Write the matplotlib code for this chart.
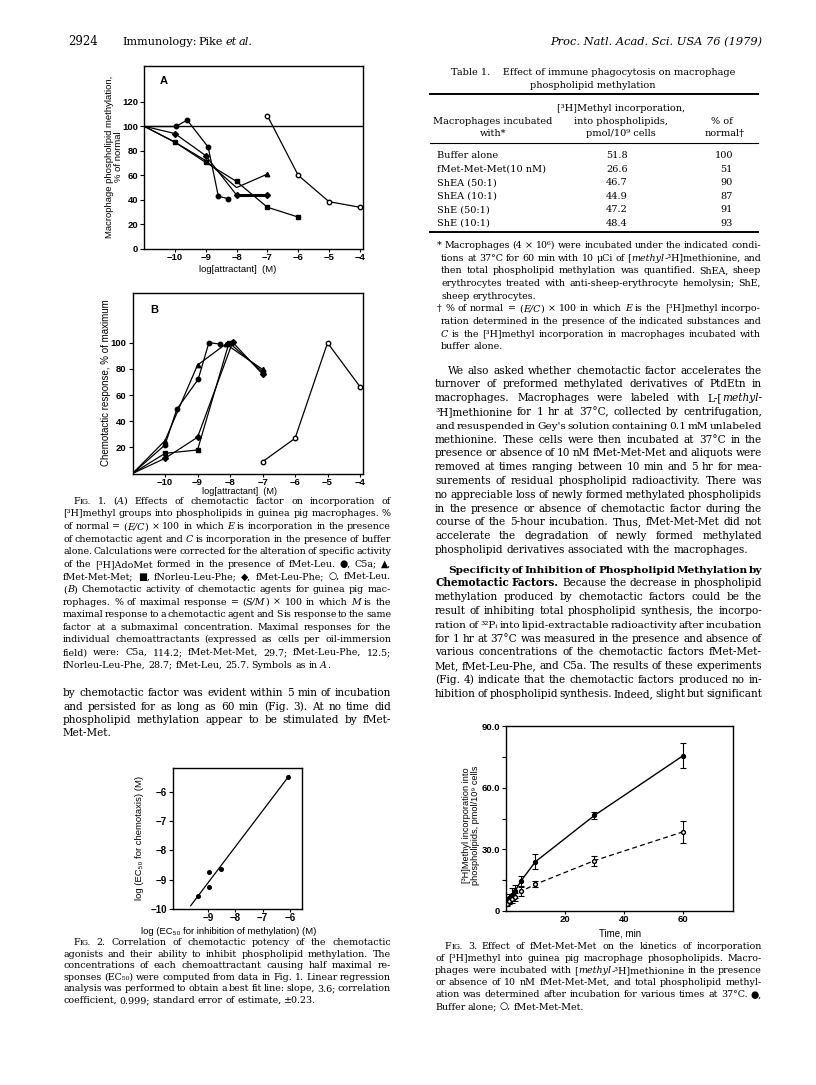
import matplotlib
matplotlib.use('Agg')
import matplotlib.pyplot as plt
import numpy as np
from matplotlib.lines import Line2D

W, H = 816, 1085
SERIF = ['DejaVu Serif', 'DejaVu Sans']
SANS = ['Liberation Sans', 'DejaVu Sans']

# Fig. 1A: % of normal methylation vs log[attractant]
a_c5a_x = [-11, -9.95, -9.6, -8.92, -8.59, -8.28]
a_c5a_y = [100, 100, 105, 83, 43, 41]
a_mmm_x = [-11, -10, -9, -8, -7]
a_mmm_y = [100, 87, 72, 50, 61]
a_nlp_x = [-11, -10, -9, -8, -7, -6]
a_nlp_y = [100, 87, 70.5, 55, 34, 26]
a_mlp_x = [-11, -10, -9, -8, -7]
a_mlp_y = [100, 94, 76, 44, 44]
a_ml_x = [-7, -6, -5, -4]
a_ml_y = [108.5, 60, 38.5, 34]

# Fig. 1B: chemotactic response, % of maximum
b_c5a_x = [-11, -10, -9.64, -8.98, -8.65, -8.31]
b_c5a_y = [0, 21.8, 49, 72, 100, 99]
b_mmm_x = [-11, -10, -9, -8.13, -7]
b_mmm_y = [0, 25.1, 82.9, 99, 79.6]
b_nlp_x = [-11, -10, -9, -8.03, -7]
b_nlp_y = [0, 15.4, 18, 100, 77.8]
b_mlp_x = [-11, -10, -9, -7.92, -7]
b_mlp_y = [0, 11.6, 27.7, 100.4, 76]
b_ml_x = [-7, -6, -5, -4]
b_ml_y = [9, 26.9, 99.9, 66.3]

# Fig. 2: log EC50 chemotaxis vs log EC50 inhibition of methylation
ec50_inhib = [-9.37, -8.97, -8.97, -8.55, -6.07]
ec50_chemo = [-9.57, -9.26, -8.75, -8.64, -5.51]

# Fig. 3: kinetics of [3H]methyl incorporation
time_min = [0.5, 1, 2, 3, 5, 10, 30, 60]
buffer_y = [4, 6.5, 8, 9.5, 14.5, 24, 46.5, 75.5]
buffer_err = [1, 2, 3, 3, 2.5, 3.5, 1.5, 6]
fmmm_y = [3.5, 5, 6, 7, 9.5, 13, 24.5, 38.5]
fmmm_err = [1, 1.5, 2, 2, 2, 1.5, 2.5, 5.5]

# Table 1
conditions = ['Buffer alone', 'fMet-Met-Met(10 nM)', 'ShEA (50:1)',
              'ShEA (10:1)', 'ShE (50:1)', 'ShE (10:1)']
incorporation = [51.8, 26.6, 46.7, 44.9, 47.2, 48.4]
pct_normal = [100, 51, 90, 87, 91, 93]

fig = plt.figure(figsize=(W / 100, H / 100), dpi=100)
fig.patch.set_facecolor('white')
renderer = fig.canvas.get_renderer()


def txt(x, y, s, size, **kw):
    kw.setdefault('family', SERIF)
    kw.setdefault('va', 'baseline')
    return fig.text(x / W, 1 - y / H, s, fontsize=size, **kw)


def seg_style(seg, size):
    # _ italic, # bold, ~ small caps part
    if seg.startswith('_'):
        return seg[1:], {'style': 'italic'}, size
    if seg.startswith('#'):
        return seg[1:], {'weight': 'bold'}, size
    if seg.startswith('~'):
        return seg[1:], {}, size * 0.8
    return seg, {}, size


def natural_width(line, size):
    w = 0
    words = line.split()
    for word in words:
        for seg in word.split('|'):
            s, kw, sz = seg_style(seg, size)
            t = txt(0, 0, s, sz, **kw)
            w += t.get_window_extent(renderer).width
            t.remove()
    return w + 0.28 * size * 100 / 72 * (len(words) - 1)


def fit_size(lines, avail, base=7.0):
    ratios = [avail / natural_width(l, base) for l in lines]
    return base * float(np.median(ratios)) * 0.98


def text_line(x0, x1, yc, line, size, justify=True):
    em = size * 100 / 72
    y = yc + 0.3 * em
    words = []
    for word in line.split():
        parts = []
        for seg in word.split('|'):
            s, kw, sz = seg_style(seg, size)
            t = txt(0, 0, s, sz, **kw)
            parts.append([t, t.get_window_extent(renderer).width, sz])
        words.append(parts)
    widths = [sum(p[1] for p in parts) for parts in words]
    total = sum(widths)
    n = len(words)
    space = 0.28 * em
    scale = 1.0
    if total + 0.6 * space * (n - 1) > x1 - x0:
        scale = (x1 - x0 - 0.6 * space * (n - 1)) / total
    gap = (x1 - x0 - total * scale) / (n - 1) if (justify and n > 1) else space
    x = x0
    for parts in words:
        for t, w, sz in parts:
            t.set_position((x / W, 1 - y / H))
            if scale < 1:
                t.set_fontsize(sz * scale)
            x += w * scale
        x += gap


def paragraph(lines, x0, x1, y0, dy, size, indent=0, justify_last=False):
    for i, line in enumerate(lines):
        last = i == len(lines) - 1
        text_line(x0 + (indent if i == 0 else 0), x1, y0 + i * dy, line, size,
                  justify=justify_last or not last)


def hrule(x0, x1, y, lw):
    fig.add_artist(Line2D([x0 / W, x1 / W], [1 - y / H, 1 - y / H], lw=lw,
                          color='black', transform=fig.transFigure))


def add_axes(x0, x1, y0, y1):
    ax = fig.add_axes([x0 / W, 1 - y1 / H, (x1 - x0) / W, (y1 - y0) / H])
    for sp in ax.spines.values():
        sp.set_linewidth(1.0)
    ax.tick_params(direction='out', length=3, width=0.8, pad=1.2, labelsize=7)
    ax.tick_params(axis='x', length=2, pad=1)
    return ax


def bold_ticks(ax, size=6.8):
    for lab in ax.get_xticklabels() + ax.get_yticklabels():
        lab.set_family(SANS)
        lab.set_fontweight('bold')
        lab.set_fontsize(size)


# ---------------- page header ----------------
txt(68, 45, '2924', 8.5)
text_line(122, 253, 41, 'Immunology: Pike _et _al.', 9.0)
txt(762, 45, 'Proc. Natl. Acad. Sci. USA 76 (1979)', 8.2, style='italic', ha='right')

# ---------------- Fig. 1A ----------------
kw = dict(color='black', lw=0.9)
ax = add_axes(144, 363, 66, 249)
ax.axhline(100, color='black', lw=1.0)
ax.plot(a_c5a_x[1:], a_c5a_y[1:], marker='o', ms=3.2, **kw)
ax.plot(a_c5a_x[:2], a_c5a_y[:2], **kw)
ax.plot(a_mmm_x, a_mmm_y, marker='^', ms=3.2, markevery=[4], **kw)
ax.plot(a_nlp_x, a_nlp_y, marker='s', ms=3.2, markevery=[1, 2, 3, 4, 5], **kw)
ax.plot(a_mlp_x, a_mlp_y, marker='D', ms=3.0, markevery=[1, 2, 3, 4], **kw)
ax.plot(a_mlp_x[3:], a_mlp_y[3:], color='black', lw=2.2)
ax.plot(a_ml_x, a_ml_y, marker='o', ms=3.2, mfc='white', **kw)
ax.set_xlim(-11, -3.9)
ax.set_ylim(0, 149)
ax.set_xticks([-10, -9, -8, -7, -6, -5, -4])
ax.set_yticks([0, 20, 40, 60, 80, 100, 120])
bold_ticks(ax)
ax.text(0.07, 0.945, 'A', transform=ax.transAxes, family=SANS, fontsize=8,
        fontweight='bold', va='top')
txt(114, 157, 'Macrophage phospholipid methylation,\n% of normal', 6.8,
    family=SANS, rotation=90, ha='center', va='center', multialignment='center',
    linespacing=1.0)
txt(238, 269, 'log[attractant]  (M)', 6.8, family=SANS, ha='center', va='center')

# ---------------- Fig. 1B ----------------
ax = add_axes(132.5, 363.3, 293, 473.5)
ax.plot(b_c5a_x, b_c5a_y, marker='o', ms=3.2, markevery=[1, 2, 3, 4, 5], **kw)
ax.plot(b_mmm_x, b_mmm_y, marker='^', ms=3.2, markevery=[1, 2, 3, 4], **kw)
ax.plot(b_nlp_x, b_nlp_y, marker='s', ms=3.2, markevery=[1, 2, 3, 4], **kw)
ax.plot(b_mlp_x, b_mlp_y, marker='D', ms=3.0, markevery=[1, 2, 3, 4], **kw)
ax.plot(b_ml_x, b_ml_y, marker='o', ms=3.2, mfc='white', **kw)
ax.set_xlim(-11, -3.9)
ax.set_ylim(0, 138)
ax.set_xticks([-10, -9, -8, -7, -6, -5, -4])
ax.set_yticks([20, 40, 60, 80, 100])
bold_ticks(ax)
ax.text(0.076, 0.933, 'B', transform=ax.transAxes, family=SANS, fontsize=8,
        fontweight='bold', va='top')
txt(106, 383, 'Chemotactic response, % of maximum', 7, family=SANS,
    rotation=90, ha='center', va='center')
txt(240, 491, 'log[attractant]  (M)', 6.6, family=SANS, ha='center', va='center')

# ---------------- Fig. 1 caption + left body ----------------
fig1_caption = [
    'F|~IG. 1. (|_A|) Effects of chemotactic factor on incorporation of',
    '[³H]methyl groups into phospholipids in guinea pig macrophages. %',
    'of normal = (|_E/C|) × 100 in which _E is incorporation in the presence',
    'of chemotactic agent and _C is incorporation in the presence of buffer',
    'alone. Calculations were corrected for the alteration of specific activity',
    'of the [³H]AdoMet formed in the presence of fMet-Leu. ●, C5a; ▲,',
    'fMet-Met-Met; ■, fNorleu-Leu-Phe; ◆, fMet-Leu-Phe; ○, fMet-Leu.',
    '(|_B|) Chemotactic activity of chemotactic agents for guinea pig mac-',
    'rophages. % of maximal response = (|_S/M|) × 100 in which _M is the',
    'maximal response to a chemotactic agent and S is response to the same',
    'factor at a submaximal concentration. Maximal responses for the',
    'individual chemoattractants (expressed as cells per oil-immersion',
    'field) were: C5a, 114.2; fMet-Met-Met, 29.7; fMet-Leu-Phe, 12.5;',
    'fNorleu-Leu-Phe, 28.7; fMet-Leu, 25.7. Symbols as in _A|.',
]
fig2_caption = [
    'F|~IG. 2. Correlation of chemotactic potency of the chemotactic',
    'agonists and their ability to inhibit phospholipid methylation. The',
    'concentrations of each chemoattractant causing half maximal re-',
    'sponses (EC₅₀) were computed from data in Fig. 1. Linear regression',
    'analysis was performed to obtain a best fit line: slope, 3.6; correlation',
    'coefficient, 0.999; standard error of estimate, ±0.23.',
]
fig3_caption = [
    'F|~IG. 3. Effect of fMet-Met-Met on the kinetics of incorporation',
    'of [³H]methyl into guinea pig macrophage phosopholipids. Macro-',
    'phages were incubated with [|_methyl|-³H]methionine in the presence',
    'or absence of 10 nM fMet-Met-Met, and total phospholipid methyl-',
    'ation was determined after incubation for various times at 37°C. ●,',
    'Buffer alone; ○, fMet-Met-Met.',
]
cap_size = fit_size(fig1_caption[1:-1] + fig2_caption[1:-1] + fig3_caption[1:-1], 328)
paragraph(fig1_caption, 63, 391, 501, 12.6, cap_size, indent=10)
paragraph(fig2_caption, 63, 391, 942, 11.65, cap_size, indent=10)
paragraph(fig3_caption, 435, 762, 945.7, 12.2, cap_size, indent=10)

left_body = [
    'by chemotactic factor was evident within 5 min of incubation',
    'and persisted for as long as 60 min (Fig. 3). At no time did',
    'phospholipid methylation appear to be stimulated by fMet-',
    'Met-Met.',
]
right_body1 = [
    'We also asked whether chemotactic factor accelerates the',
    'turnover of preformed methylated derivatives of PtdEtn in',
    'macrophages. Macrophages were labeled with L-[|_methyl-',
    '³H]methionine for 1 hr at 37°C, collected by centrifugation,',
    "and resuspended in Gey's solution containing 0.1 mM unlabeled",
    'methionine. These cells were then incubated at 37°C in the',
    'presence or absence of 10 nM fMet-Met-Met and aliquots were',
    'removed at times ranging between 10 min and 5 hr for mea-',
    'surements of residual phospholipid radioactivity. There was',
    'no appreciable loss of newly formed methylated phospholipids',
    'in the presence or absence of chemotactic factor during the',
    'course of the 5-hour incubation. Thus, fMet-Met-Met did not',
    'accelerate the degradation of newly formed methylated',
    'phospholipid derivatives associated with the macrophages.',
]
right_body2 = [
    '#Specificity #of #Inhibition #of #Phospholipid #Methylation #by',
    '#Chemotactic #Factors. Because the decrease in phospholipid',
    'methylation produced by chemotactic factors could be the',
    'result of inhibiting total phospholipid synthesis, the incorpo-',
    'ration of ³²Pᵢ into lipid-extractable radioactivity after incubation',
    'for 1 hr at 37°C was measured in the presence and absence of',
    'various concentrations of the chemotactic factors fMet-Met-',
    'Met, fMet-Leu-Phe, and C5a. The results of these experiments',
    '(Fig. 4) indicate that the chemotactic factors produced no in-',
    'hibition of phospholipid synthesis. Indeed, slight but significant',
]
body_size = fit_size(left_body[:-1] + right_body1[:-1] + right_body2[1:], 328)
paragraph(left_body, 63, 391, 693.3, 13.3, body_size)
paragraph(right_body1, 435, 762, 370.5, 13.8, body_size, indent=13)
paragraph(right_body2, 435, 762, 569.5, 13.8, body_size, indent=13,
          justify_last=True)

# ---------------- Fig. 2 ----------------
ax = add_axes(173, 302, 768, 909)
ax.plot(ec50_inhib, ec50_chemo, 'o', color='black', ms=2.6)
slope, icpt = np.polyfit(ec50_inhib, ec50_chemo, 1)
fx = np.array([-9.65, -6.02])
ax.plot(fx, slope * fx + icpt, color='black', lw=0.9)
ax.set_xlim(-10.3, -5.55)
ax.set_ylim(-10, -5.2)
ax.set_xticks([-9, -8, -7, -6])
ax.set_yticks([-10, -9, -8, -7, -6])
bold_ticks(ax, 7)
txt(140, 838, 'log (EC₅₀ for chemotaxis) (M)', 6.8, family=SANS, rotation=90,
    ha='center', va='center')
txt(229, 932, 'log (EC₅₀ for inhibition of methylation) (M)', 6.8, family=SANS,
    ha='center', va='center')

# ---------------- Table 1 ----------------
txt(593, 75, 'Table 1.    Effect of immune phagocytosis on macrophage', 7.0,
    ha='center')
txt(593, 88, 'phospholipid methylation', 7.0, ha='center')
hrule(430, 758, 93.5, 1.4)
txt(621, 111, '[³H]Methyl incorporation,', 7.0, ha='center')
txt(621, 123.5, 'into phospholipids,', 7.0, ha='center')
txt(621, 136.5, 'pmol/10⁹ cells', 7.0, ha='center')
txt(493, 123.5, 'Macrophages incubated', 7.0, ha='center')
txt(493, 136.5, 'with*', 7.0, ha='center')
txt(722, 123.5, '% of', 7.0, ha='center')
txt(725, 136.5, 'normal†', 7.0, ha='center')
hrule(430, 758, 143, 0.8)
for i, (c, v, p) in enumerate(zip(conditions, incorporation, pct_normal)):
    yb = 158.5 + i * 13.45
    txt(437, yb, c, 7.0)
    txt(617, yb, f'{v:.1f}', 7.0, ha='center')
    txt(733, yb, f'{p}', 7.0, ha='right')
hrule(430, 758, 232, 1.4)

footnotes = [
    '* Macrophages (4 × 10⁶) were incubated under the indicated condi-',
    'tions at 37°C for 60 min with 10 μCi of [|_methyl|-³H]methionine, and',
    'then total phospholipid methylation was quantified. ShEA, sheep',
    'erythrocytes treated with anti-sheep-erythrocyte hemolysin; ShE,',
    'sheep erythrocytes.',
]
footnotes2 = [
    '† % of normal = (|_E/C|) × 100 in which _E is the [³H]methyl incorpo-',
    'ration determined in the presence of the indicated substances and',
    '_C is the [³H]methyl incorporation in macrophages incubated with',
    'buffer alone.',
]
foot_size = fit_size(footnotes[1:-1] + footnotes2[1:-1], 320)
paragraph(footnotes, 441, 761, 245, 12.7, foot_size, indent=-4)
paragraph(footnotes2, 441, 761, 245 + 5 * 12.7, 12.7, foot_size, indent=-4)

# ---------------- Fig. 3 ----------------
ax = add_axes(506, 733, 726, 911)
ax.errorbar(time_min, buffer_y, yerr=buffer_err, color='black', lw=1.0,
            marker='o', ms=2.8, capsize=2, elinewidth=0.8, capthick=0.8)
ax.errorbar(time_min, fmmm_y, yerr=fmmm_err, color='black', lw=0.9,
            ls=(0, (4, 2.5)), marker='o', ms=2.8, mfc='white', capsize=2,
            elinewidth=0.8, capthick=0.8)
ax.set_xlim(0, 77)
ax.set_ylim(0, 90)
ax.set_xticks([20, 40, 60])
ax.set_yticks([0, 30, 60, 90])
ax.set_yticklabels(['0', '30.0', '60.0', '90.0'])
ax.set_yticks([15, 45, 75], minor=True)
ax.tick_params(which='minor', direction='out', length=3, width=0.8)
bold_ticks(ax, 6.8)
txt(471, 825, '[³H]Methyl incorporation into\nphospholipids, pmol/10⁹ cells', 6.6,
    family=SANS, rotation=90, ha='center', va='center', multialignment='center',
    linespacing=1.05)
txt(620, 933, 'Time, min', 7, family=SANS, ha='center', va='center')

fig.savefig('out.png', dpi=100, facecolor='white')
